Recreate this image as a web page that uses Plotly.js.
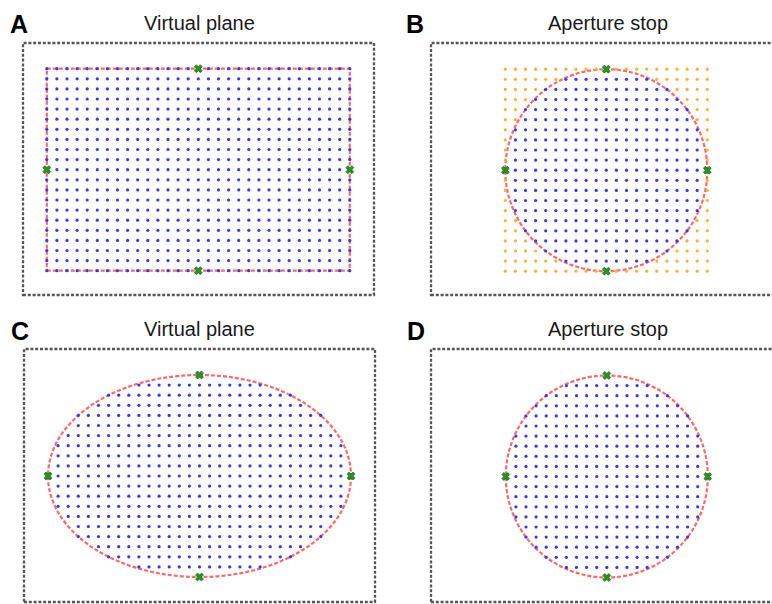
<!DOCTYPE html>
<html><head><meta charset="utf-8">
<script src="https://cdn.plot.ly/plotly-3.0.1.min.js"></script>
<style>html,body{margin:0;padding:0;background:#fff}</style>
</head><body><div id="chart" style="width:772px;height:604px"></div>
<script>
// ---- data ----
const gridWide   = [-15,-14,-13,-12,-11,-10,-9,-8,-7,-6,-5,-4,-3,-2,-1,0,1,2,3,4,5,6,7,8,9,10,11,12,13,14,15];
const gridSquare = [-10,-9,-8,-7,-6,-5,-4,-3,-2,-1,0,1,2,3,4,5,6,7,8,9,10];
const rowsY      = [-10,-9,-8,-7,-6,-5,-4,-3,-2,-1,0,1,2,3,4,5,6,7,8,9,10];
// largest |x| of grid points kept in each row (rowsY order)
const ellipseHalfWidths = [0,6,9,10,12,12,13,14,14,14,15,14,14,14,13,12,12,10,9,6,0];
const circleHalfWidths  = [0,4,6,7,8,8,9,9,9,9,10,9,9,9,9,8,8,7,6,4,0];
const rectHalf = [15,10];
const ellipseSemiAxes = [15,10];
const apertureRadius = 10;
const keyWideX = [0,0,-15,15], keyWideY = [10,-10,0,0];
const keySquareX = [0,0,-10,10], keySquareY = [10,-10,0,0];
const titles = ['Virtual plane','Aperture stop','Virtual plane','Aperture stop'];
const letters = ['A','B','C','D'];

// ---- build point sets ----
function collect(xs, halfWidths){
  const inX=[],inY=[],outX=[],outY=[];
  rowsY.forEach((y,i)=>{
    xs.forEach(x=>{
      if(halfWidths===null || Math.abs(x)<=halfWidths[i]){inX.push(x);inY.push(y);}
      else {outX.push(x);outY.push(y);}
    });
  });
  return {inX,inY,outX,outY};
}
const pA = collect(gridWide, null);
const pB = collect(gridSquare, circleHalfWidths);
const pC = collect(gridWide, ellipseHalfWidths);
const pD = collect(gridSquare, circleHalfWidths);

const BLUE='#3535ff', ORANGE='#ffb030', GREEN='#1f9a1f', RED='rgba(255,40,40,0.7)';
function dots(x,y,color,ax){return {type:'scatter',mode:'markers',x,y,xaxis:'x'+ax,yaxis:'y'+ax,
  marker:{size:3.2,color:color},hoverinfo:'skip',showlegend:false};}
function keys(x,y,ax){return {type:'scatter',mode:'markers',x,y,xaxis:'x'+ax,yaxis:'y'+ax,
  marker:{symbol:'x',size:7,color:GREEN,line:{width:0.6,color:'#0b4d0b'}},hoverinfo:'skip',showlegend:false};}

const traces = [
  dots(pA.inX,pA.inY,BLUE,''), keys(keyWideX,keyWideY,''),
  dots(pB.outX,pB.outY,ORANGE,'2'), dots(pB.inX,pB.inY,BLUE,'2'), keys(keySquareX,keySquareY,'2'),
  dots(pC.inX,pC.inY,BLUE,'3'), keys(keyWideX,keyWideY,'3'),
  dots(pD.inX,pD.inY,BLUE,'4'), keys(keySquareX,keySquareY,'4')
];

// ---- layout ----
const W=772,H=604,S=10.1;
// frame boxes [left, top, right, bottom] and origin [cx, cy] in pixels
const boxes   = [[23,43,374,295],[431,43,782,295],[24,349,375,602],[431,349,782,602]];
const origins = [[198.3,169.7],[606.3,170.2],[199.5,476],[606.8,476.5]];
const layout = {width:W,height:H,margin:{l:0,r:0,t:0,b:0},paper_bgcolor:'#fff',plot_bgcolor:'rgba(0,0,0,0)',
  showlegend:false,shapes:[],annotations:[],font:{family:'Arial, Liberation Sans, sans-serif'}};
boxes.forEach((b,i)=>{
  const c=origins[i], r=Math.min(b[2],W), sfx=i===0?'':String(i+1);
  layout['xaxis'+sfx]={domain:[b[0]/W,r/W],range:[(b[0]-c[0])/S,(r-c[0])/S],visible:false,fixedrange:true,anchor:'y'+sfx};
  layout['yaxis'+sfx]={domain:[1-b[3]/H,1-b[1]/H],range:[(c[1]-b[3])/S,(c[1]-b[1])/S],visible:false,fixedrange:true,anchor:'x'+sfx};
  layout.shapes.push({type:'rect',xref:'paper',yref:'paper',x0:b[0]/W,x1:b[2]/W,y0:1-b[3]/H,y1:1-b[1]/H,
    line:{color:'#555',width:2.3,dash:'3px,1.8px'}});
});
const bl = {color:RED,width:2.2,dash:'4px,2px'};
layout.shapes.push({type:'rect',xref:'x',yref:'y',x0:-rectHalf[0],x1:rectHalf[0],y0:-rectHalf[1],y1:rectHalf[1],line:bl,layer:'below'});
layout.shapes.push({type:'circle',xref:'x2',yref:'y2',x0:-apertureRadius,x1:apertureRadius,y0:-apertureRadius,y1:apertureRadius,line:bl,layer:'below'});
layout.shapes.push({type:'circle',xref:'x3',yref:'y3',x0:-ellipseSemiAxes[0],x1:ellipseSemiAxes[0],y0:-ellipseSemiAxes[1],y1:ellipseSemiAxes[1],line:bl,layer:'below'});
layout.shapes.push({type:'circle',xref:'x4',yref:'y4',x0:-apertureRadius,x1:apertureRadius,y0:-apertureRadius,y1:apertureRadius,line:bl,layer:'below'});

const titlePos  = [[200,22.5],[607.5,22.5],[200,328.5],[607.5,328.5]];
const letterPos = [[19,24],[415,24],[20,331],[416,331]];
titles.forEach((t,i)=>{
  layout.annotations.push({text:t,xref:'paper',yref:'paper',x:titlePos[i][0]/W,y:1-titlePos[i][1]/H,
    xanchor:'center',yanchor:'middle',showarrow:false,font:{size:20,color:'#1a1a1a',family:'Arial, Liberation Sans, sans-serif'}});
  layout.annotations.push({text:'<b>'+letters[i]+'</b>',xref:'paper',yref:'paper',x:letterPos[i][0]/W,y:1-letterPos[i][1]/H,
    xanchor:'center',yanchor:'middle',showarrow:false,font:{size:25,color:'#000',family:'Arial, Liberation Sans, sans-serif'}});
});

Plotly.newPlot('chart',traces,layout,{staticPlot:true,displayModeBar:false});
</script></body></html>
